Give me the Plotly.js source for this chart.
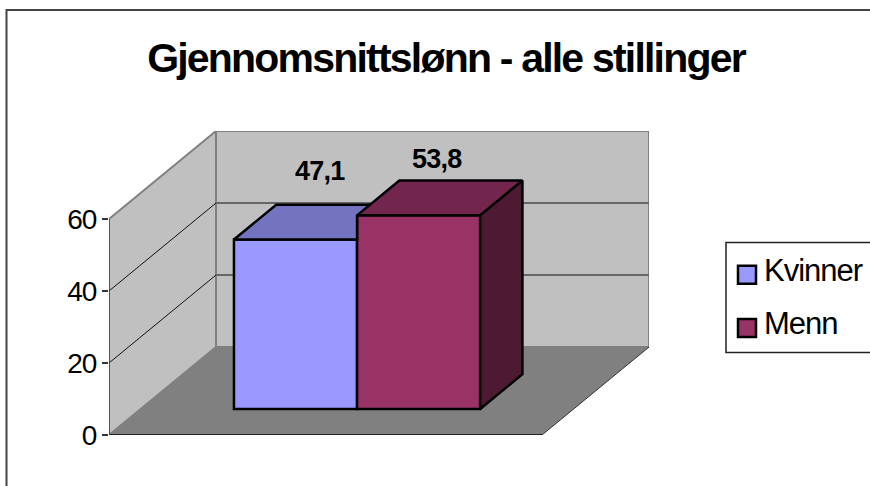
<!DOCTYPE html>
<html>
<head>
<meta charset="utf-8">
<script src="https://cdn.plot.ly/plotly-3.0.1.min.js"></script>
<style>
html,body{margin:0;padding:0;background:#fff;overflow:hidden}
#chart{width:870px;height:486px}
.gtitle{letter-spacing:-1.8px}
.legendtext{letter-spacing:-1px;transform:translate(-3px,-6px)}
.ytick text{letter-spacing:-1px}
.annotation-text{letter-spacing:-0.8px}
.legend .legendbar path,.legend .legendpoints path{d:path("M9,9H-9V-9H9Z")!important}
</style>
</head>
<body>
<div id="chart"></div>
<script>
const categories = ['Kvinner', 'Menn'];
const values = [47.1, 53.8];
const fronts = ['#9999ff', '#993366'];
const tops = ['#7373bf', '#73264d'];
const sideColor = '#4d1933';
const yTicks = [0, 20, 40, 60];
const titleText = 'Gjennomsnittslønn - alle stillinger';

// oblique projection: floor width = 1 x-unit, value axis in data units
const W = 433, PXY = 3.6, DX = 107 / W, DY = 88 / PXY;
const d0 = 0.295, d1 = 0.69;
const edges = [0.2157, 0.5, 0.7843];
const P = (x, v, d) => [x + d * DX, v + d * DY];
const poly = pts => ({ x: pts.map(p => p[0]).concat(pts[0][0]), y: pts.map(p => p[1]).concat(pts[0][1]) });
const base = d0 * DY;
const fx = d0 * DX;

const barTraces = categories.map((c, i) => ({
  type: 'bar', name: c, legendgroup: c,
  x: [fx + (edges[i] + edges[i + 1]) / 2], y: [values[i]], base: [base],
  width: [edges[i + 1] - edges[i]],
  marker: { color: fronts[i], line: { color: '#000', width: 2.5 } },
  hoverinfo: 'name', textposition: 'none'
}));
const face = (pts, color) => Object.assign(poly(pts), {
  type: 'scatter', mode: 'lines', fill: 'toself', fillcolor: color,
  line: { color: '#000', width: 2.5 }, showlegend: false, hoverinfo: 'skip'
});
const [v1, v2] = values;
const faces = [
  face([P(edges[0], v1, d0), P(edges[1], v1, d0), P(edges[1], v2, d0), P(edges[1], v1, d1), P(edges[0], v1, d1)], tops[0]),
  face([P(edges[1], v2, d0), P(edges[2], v2, d0), P(edges[2], v2, d1), P(edges[1], v2, d1)], tops[1]),
  face([P(edges[2], v2, d0), P(edges[2], v2, d1), P(edges[2], 0, d1), P(edges[2], 0, d0)], sideColor)
];

const path = pts => 'M' + pts.map(p => p[0] + ',' + p[1]).join('L') + 'Z';
const xy = { xref: 'x', yref: 'y', layer: 'below' };
const shapes = [
  // chart frame and legend box
  { type: 'rect', xref: 'paper', yref: 'paper', layer: 'below', x0: -102.5 / 540, x1: 770 / 540, y0: -60 / 304, y1: 425 / 304, line: { color: '#444', width: 2 }, fillcolor: '#fff' },
  { type: 'rect', xref: 'paper', yref: 'paper', layer: 'below', x0: 617 / 540, x1: 770 / 540, y0: 82.5 / 304, y1: 192.5 / 304, line: { color: '#222', width: 1.5 }, fillcolor: '#fff' },
  // floor, walls
  Object.assign({ type: 'path', path: path([P(0, 0, 0), P(1, 0, 0), P(1, 0, 1), P(0, 0, 1)]), fillcolor: '#808080', line: { width: 0 } }, xy),
  Object.assign({ type: 'path', path: path([P(0, 0, 0), P(0, 60, 0), P(0, 60, 1), P(0, 0, 1)]), fillcolor: '#c0c0c0', line: { color: '#808080', width: 2 } }, xy),
  Object.assign({ type: 'path', path: path([P(0, 0, 1), P(0, 60, 1), P(1, 60, 1), P(1, 0, 1)]), fillcolor: '#c0c0c0', line: { color: '#808080', width: 2 } }, xy)
];
yTicks.slice(1, 3).forEach(v => {
  const a = P(0, v, 0), b = P(0, v, 1), c = P(1, v, 1);
  shapes.push(Object.assign({ type: 'line', x0: a[0], y0: a[1], x1: b[0], y1: b[1], line: { color: '#111', width: 1 } }, xy));
  shapes.push(Object.assign({ type: 'line', x0: b[0], y0: b[1], x1: c[0], y1: c[1], line: { color: '#666', width: 2 } }, xy));
});
const q = [P(0, 0, 0), P(1, 0, 0), P(1, 0, 1)];
shapes.push(Object.assign({ type: 'line', x0: q[0][0], y0: q[0][1], x1: q[1][0], y1: q[1][1], line: { color: '#000', width: 1.5 } }, xy));
shapes.push(Object.assign({ type: 'line', x0: q[1][0], y0: q[1][1], x1: q[2][0], y1: q[2][1], line: { color: '#333', width: 1 } }, xy));
shapes.push(Object.assign({ type: 'line', x0: 0, y0: 0, x1: 0, y1: 60, line: { color: '#444', width: 1.5 } }, xy));

const labelShift = [[24, 68], [18, 56]];
const annotations = values.map((v, i) => ({
  x: fx + (edges[i] + edges[i + 1]) / 2, y: base + v, xref: 'x', yref: 'y',
  text: '<b>' + v.toFixed(1).replace('.', ',') + '</b>', showarrow: false,
  xshift: labelShift[i][0], yshift: labelShift[i][1],
  xanchor: 'center', yanchor: 'middle',
  font: { family: 'Liberation Sans', size: 27, color: '#000' }
}));

const layout = {
  width: 870, height: 486,
  margin: { l: 109, r: 221, t: 131, b: 51, pad: 0, autoexpand: false },
  paper_bgcolor: '#fff', plot_bgcolor: 'rgba(0,0,0,0)',
  separators: ',.',
  title: { text: '<b>' + titleText + '</b>', x: 446 / 870, xanchor: 'center', y: 1 - 58 / 486, yanchor: 'middle', font: { family: 'Liberation Sans', size: 41, color: '#000' } },
  xaxis: { visible: false, range: [0, 540 / W], fixedrange: true },
  yaxis: {
    range: [0, 304 / PXY], tickvals: yTicks, ticktext: yTicks.map(String), ticks: 'outside', ticklen: 6, tickwidth: 1.5, tickcolor: '#333',
    showgrid: false, zeroline: false, showline: false, fixedrange: true,
    tickfont: { family: 'Liberation Sans', size: 28, color: '#000' }
  },
  bargap: 0, barmode: 'overlay',
  shapes, annotations,
  showlegend: true,
  legend: {
    x: 618 / 540, xanchor: 'left', y: 187 / 304, yanchor: 'top',
    bgcolor: 'rgba(0,0,0,0)', borderwidth: 0, tracegroupgap: 10, traceorder: 'grouped',
    font: { family: 'Liberation Sans', size: 31, color: '#000' }
  }
};
Plotly.newPlot('chart', barTraces.concat(faces), layout, { displayModeBar: false, staticPlot: true });
</script>
</body>
</html>
